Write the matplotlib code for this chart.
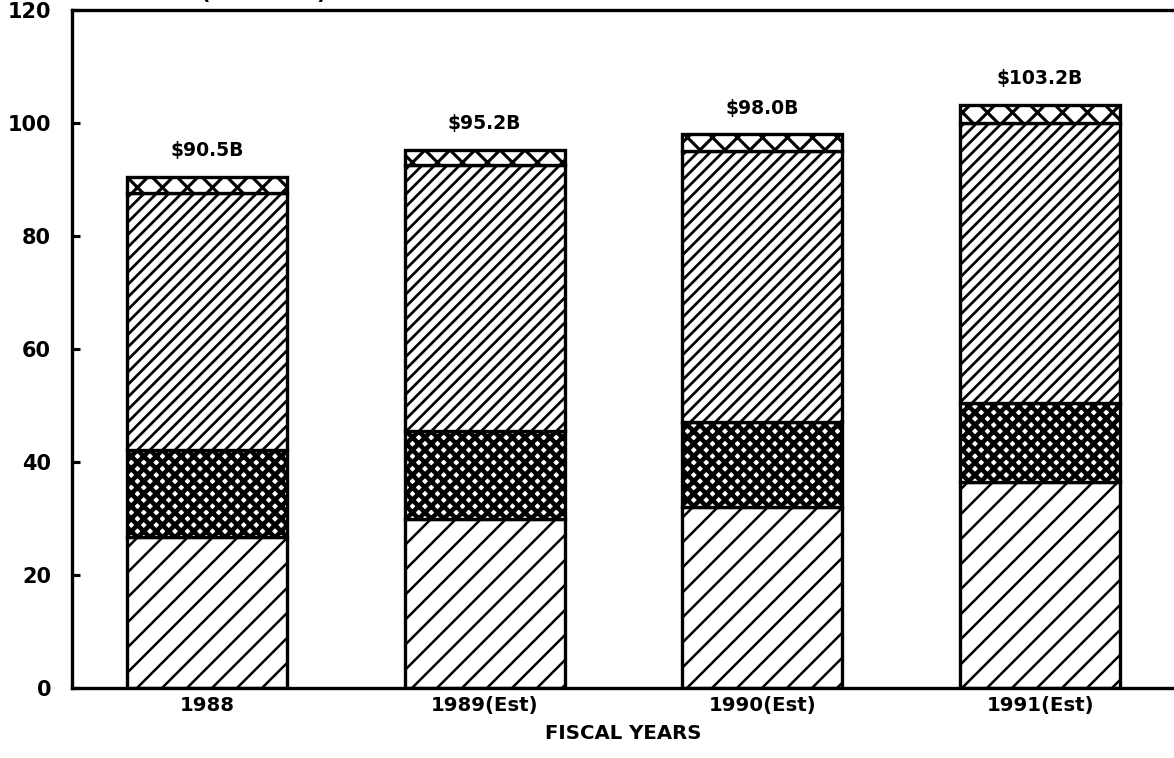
import numpy as np
import matplotlib
matplotlib.use("Agg")
import matplotlib.pyplot as plt

# === Chart data ===
years = ["1988", "1989(Est)", "1990(Est)", "1991(Est)"]
seg_bottom = [26.8, 30.0, 32.0, 36.5]      # sparse diagonal hatch
seg_cross = [15.4, 15.5, 15.0, 14.0]       # dense cross hatch
seg_diag = [45.4, 47.0, 48.0, 49.5]        # dense diagonal hatch
seg_top = [2.9, 2.7, 3.0, 3.2]             # open cross hatch
total_labels = ["$90.5B", "$95.2B", "$98.0B", "$103.2B"]
y_ticks = [0, 20, 40, 60, 80, 100, 120]

plt.rcParams['font.family'] = ['DejaVu Sans']
plt.rcParams['hatch.color'] = 'black'
plt.rcParams['hatch.linewidth'] = 1.4

DPI = 150
fig = plt.figure(figsize=(1174 / DPI, 758 / DPI), dpi=DPI, facecolor='white')
ax = fig.add_axes([0.0613, 0.0923, 0.9387, 0.8945])

x = np.arange(len(years))
width = 0.576

# (values, hatch pattern, hatch line width)
layers = [
    (seg_bottom, '//', 1.2),
    (seg_cross, 'xxxx', 2.2),
    (seg_diag, '////', 1.3),
    (seg_top, 'xx', 1.5),
]

bottom = np.zeros(len(years))
for vals, hatch, hlw in layers:
    bars = ax.bar(x, vals, width, bottom=bottom, facecolor='white',
                  edgecolor='black', linewidth=1.6, hatch=hatch)
    for b in bars:
        if hasattr(b, 'set_hatch_linewidth'):
            b.set_hatch_linewidth(hlw)
    bottom = bottom + np.array(vals)

# value labels above each bar
for xi, top, lab in zip(x, bottom, total_labels):
    ax.annotate(lab, (xi, top), xytext=(0, 8), textcoords='offset points',
                ha='center', va='bottom', fontsize=9, fontweight='bold')

ax.set_xlim(-0.486, 3.482)
ax.set_ylim(0, 120)
ax.set_yticks(y_ticks)
ax.set_yticklabels([str(t) for t in y_ticks], fontsize=10, fontweight='bold')
ax.set_xticks(x)
ax.set_xticklabels(years, fontsize=9.5, fontweight='bold')
ax.tick_params(axis='y', direction='in', length=4, width=1.5, pad=10)
ax.tick_params(axis='x', length=0, pad=4)
ax.set_xlabel("FISCAL YEARS", fontsize=9.5, fontweight='bold', labelpad=4)

for side in ['left', 'bottom', 'top']:
    ax.spines[side].set_linewidth(1.6)
ax.spines['right'].set_visible(False)

# title cropped off at the very top of the page (only the bottom shows)
fig.text(200 / 1174, 1 + 1 / 758, "(BILLIONS)", ha='left', va='baseline',
         fontsize=10, fontweight='bold')

fig.savefig("out.png", dpi=DPI, facecolor='white')
